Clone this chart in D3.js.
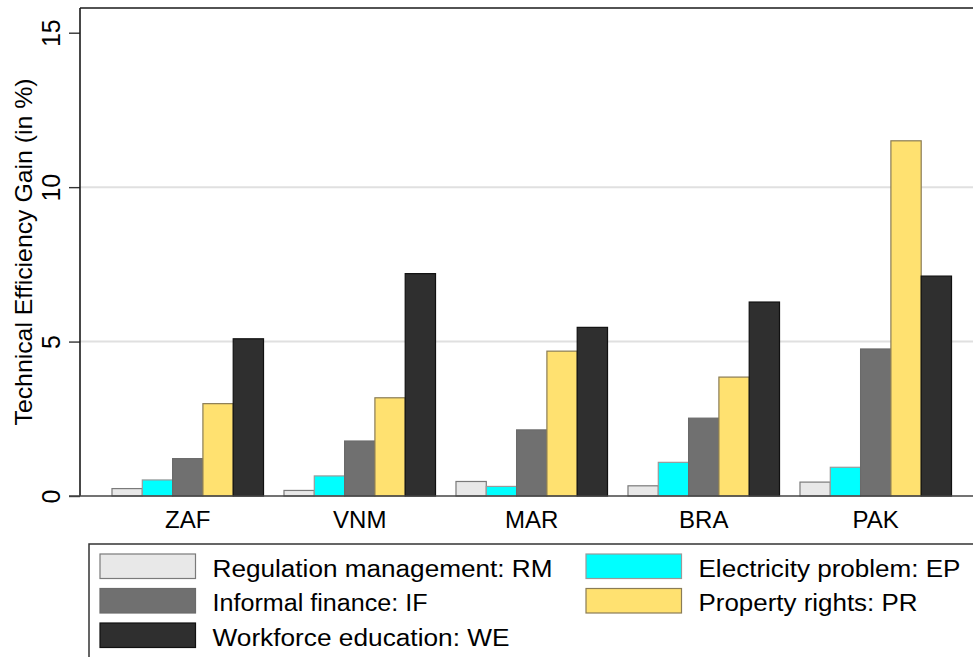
<!DOCTYPE html>
<html>
<head>
<meta charset="utf-8">
<script src="https://cdn.jsdelivr.net/npm/d3@7"></script>
<style>
  html, body { margin: 0; padding: 0; background: #fff; }
  svg { display: block; font-family: Arial, "Liberation Sans", Helvetica, sans-serif; }
</style>
</head>
<body>
<svg id="chart" width="973" height="657"></svg>
<script>
// Countries on the x axis
const countries = ["ZAF", "VNM", "MAR", "BRA", "PAK"];

// Obstacle series (bar order within each country group)
const seriesKeys = ["RM", "EP", "IF", "PR", "WE"];
const seriesNames = [
  "Regulation management: RM",
  "Electricity problem: EP",
  "Informal finance: IF",
  "Property rights: PR",
  "Workforce education: WE"
];

// Technical efficiency gain (%) per country, one array per series
const valuesRM = [0.24, 0.18, 0.47, 0.33, 0.45];
const valuesEP = [0.52, 0.65, 0.31, 1.09, 0.93];
const valuesIF = [1.21, 1.78, 2.14, 2.52, 4.76];
const valuesPR = [2.99, 3.18, 4.69, 3.85, 11.50];
const valuesWE = [5.09, 7.20, 5.46, 6.28, 7.12];

// Y axis ticks
const yTicks = [0, 5, 10, 15];
const yGrid = [5, 10];

const seriesValues = [valuesRM, valuesEP, valuesIF, valuesPR, valuesWE];
const fills   = ["#e8e8e8", "#00ffff", "#707070", "#ffe170", "#2f2f2f"];
const strokes = ["#7a7a7a", "#9a9a9a", "#6a6a6a", "#8a7c55", "#111111"];

const svg = d3.select("#chart");

const plot = { left: 80, top: 8, bottom: 496, right: 983.5 };

const x = d3.scaleBand()
  .domain(countries)
  .range([plot.left, plot.right])
  .paddingInner(0.119)
  .paddingOuter(0.186);

const xs = d3.scaleBand()
  .domain(seriesKeys)
  .range([0, x.bandwidth()])
  .padding(0);

const y = d3.scaleLinear()
  .domain([0, 15.8])
  .range([plot.bottom, plot.top]);

// Horizontal grid lines
svg.append("g")
  .selectAll("line")
  .data(yGrid)
  .join("line")
  .attr("x1", plot.left)
  .attr("x2", 973)
  .attr("y1", d => y(d))
  .attr("y2", d => y(d))
  .attr("stroke", "#e0e0e0")
  .attr("stroke-width", 2);

// Bars
const rows = countries.map((c, i) => ({
  country: c,
  vals: seriesKeys.map((k, j) => ({ key: k, idx: j, value: seriesValues[j][i] }))
}));

const groups = svg.append("g")
  .selectAll("g")
  .data(rows)
  .join("g")
  .attr("transform", d => `translate(${x(d.country)},0)`);

groups.selectAll("rect")
  .data(d => d.vals)
  .join("rect")
  .attr("x", d => xs(d.key))
  .attr("y", d => y(d.value))
  .attr("width", xs.bandwidth())
  .attr("height", d => y(0) - y(d.value))
  .attr("fill", d => fills[d.idx])
  .attr("stroke", d => strokes[d.idx])
  .attr("stroke-width", 1.2);

// Y axis
const yAxis = svg.append("g")
  .attr("transform", `translate(${plot.left},0)`)
  .call(d3.axisLeft(y).tickValues(yTicks).tickSize(11).tickFormat(d3.format("d")));
yAxis.select(".domain").remove();
yAxis.selectAll(".tick line").attr("stroke", "#333").attr("stroke-width", 1.4);
yAxis.selectAll(".tick text")
  .attr("x", null).attr("dy", null)
  .attr("transform", "translate(-20,0) rotate(-90)")
  .attr("text-anchor", "middle")
  .attr("fill", "#000")
  .style("font-size", "25px")
  .style("font-family", "Arial, 'Liberation Sans', sans-serif");

// Frame lines: left axis, top border
svg.append("line")
  .attr("x1", plot.left).attr("x2", plot.left)
  .attr("y1", plot.top).attr("y2", plot.bottom)
  .attr("stroke", "#1a1a1a").attr("stroke-width", 1.6);
svg.append("line")
  .attr("x1", plot.left).attr("x2", 973)
  .attr("y1", plot.top).attr("y2", plot.top)
  .attr("stroke", "#1a1a1a").attr("stroke-width", 1.6);

// X axis
const xAxis = svg.append("g")
  .attr("transform", `translate(0,${plot.bottom})`)
  .call(d3.axisBottom(x).tickSize(0).tickSizeOuter(0));
xAxis.select(".domain")
  .attr("d", `M${plot.left - 11},0H973`)
  .attr("stroke", "#444").attr("stroke-width", 1.6);
xAxis.selectAll(".tick text")
  .attr("y", 32)
  .attr("dy", null)
  .attr("fill", "#000")
  .style("font-size", "24px")
  .style("font-family", "Arial, 'Liberation Sans', sans-serif");

// Y axis title
svg.append("text")
  .attr("transform", `translate(32,${(plot.top + plot.bottom) / 2}) rotate(-90)`)
  .attr("text-anchor", "middle")
  .style("font-size", "24.5px")
  .attr("fill", "#000")
  .attr("textLength", 347)
  .attr("lengthAdjust", "spacingAndGlyphs")
  .text("Technical Efficiency Gain (in %)");

// Legend
const legend = svg.append("g");
legend.append("path")
  .attr("d", "M89,660V544H975")
  .attr("fill", "none")
  .attr("stroke", "#333")
  .attr("stroke-width", 1.5);

const legendCols = [100, 586];
const legendRowTop = 554;
const legendRowStep = 34.5;
const legendWidths = [340, 262, 215, 219, 297];

const items = legend.selectAll("g.item")
  .data(seriesKeys.map((k, j) => ({ key: k, idx: j, name: seriesNames[j] })))
  .join("g")
  .attr("class", "item")
  .attr("transform", d => {
    const col = d.idx % 2, row = Math.floor(d.idx / 2);
    return `translate(${legendCols[col]},${legendRowTop + row * legendRowStep})`;
  });

items.append("rect")
  .attr("width", 95.5)
  .attr("height", 24.5)
  .attr("fill", d => fills[d.idx])
  .attr("stroke", d => strokes[d.idx])
  .attr("stroke-width", 1.2);

items.append("text")
  .attr("x", 112.5)
  .attr("y", 22.5)
  .style("font-size", "23px")
  .attr("fill", "#000")
  .attr("textLength", d => legendWidths[d.idx])
  .attr("lengthAdjust", "spacingAndGlyphs")
  .text(d => d.name);
</script>
</body>
</html>
